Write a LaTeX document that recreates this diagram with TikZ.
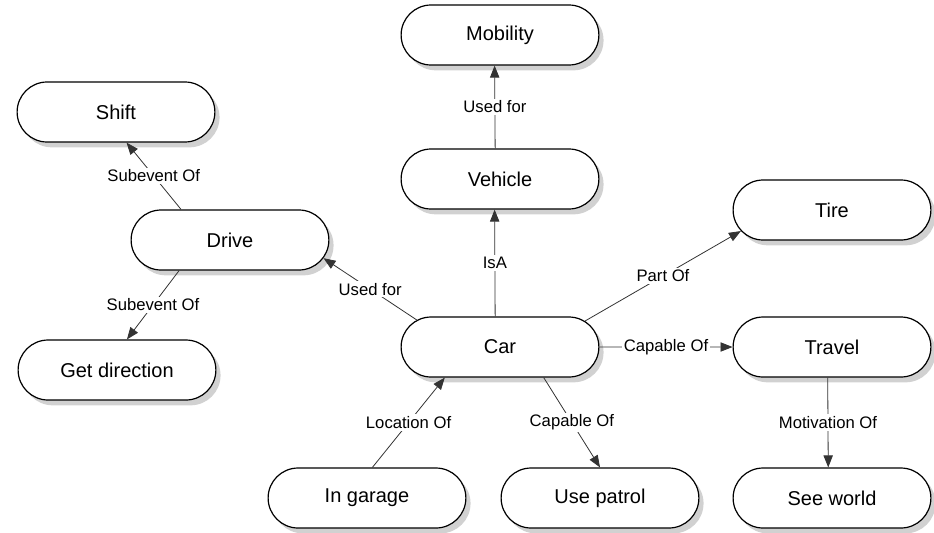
\documentclass[tikz,border=0pt]{standalone}
\usepackage{fontspec}
\setmainfont{Liberation Sans}
\usetikzlibrary{arrows.meta,shapes.misc,shadows}

\begin{document}
\begin{tikzpicture}[x=0.75pt,y=-0.75pt,
  concept/.style={rounded rectangle,draw,line width=0.9pt,fill=white,
    minimum width=155pt,minimum height=45pt,font=\fontsize{15}{18}\selectfont,
    drop shadow={shadow xshift=3.5pt,shadow yshift=-4pt,fill=black!40,opacity=0.45}},
  rel/.style={draw=black!80,line width=0.6pt,-{Triangle[length=9pt,width=7pt]}},
  lbl/.style={fill=white,inner sep=1.5pt,font=\fontsize{12.5}{14}\selectfont}]
\useasboundingbox (0,0) rectangle (934,532);
\foreach \name/\x/\y/\txt in {mobility/500/35/Mobility, vehicle/500/179/Vehicle,
    shift/116/112/Shift, drive/230/240/Drive, tire/832/210/Tire, car/500/347/Car,
    travel/832/347/Travel, getdir/117/370/Get direction, garage/367/498/In garage,
    patrol/600/498/Use patrol, world/832/498/See world}
  \node[concept] (\name) at (\x,\y) {\txt};
\foreach \a/\aa/\b/\bb/\lab in {vehicle/99.3/mobility/260.7/Used for,
    car/99.3/vehicle/260.7/IsA, car/162.8/drive/-11/Used for,
    drive/148.2/shift/289.5/Subevent Of, drive/211.8/getdir/72/Subevent Of,
    car/17.2/tire/193/Part Of, car/0/travel/180/Capable Of,
    car/-35/patrol/90/Capable Of, garage/80.5/car/209.4/Location Of,
    travel/262.5/world/97.6/Motivation Of}
  \draw[rel] (\a.\aa) -- node[lbl] {\lab} (\b.\bb);
\end{tikzpicture}
\end{document}
